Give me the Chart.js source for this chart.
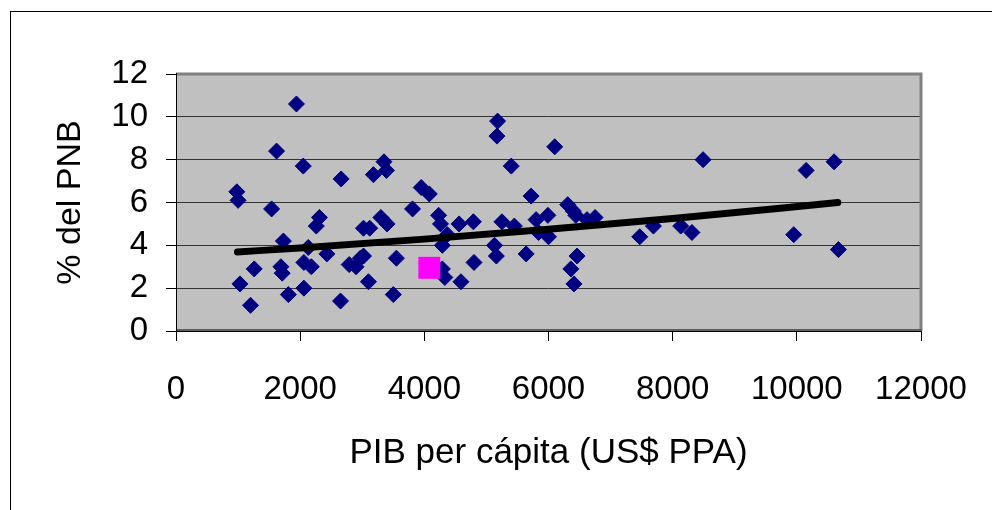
<!DOCTYPE html>
<html lang="es">
<head>
<meta charset="UTF-8">
<title>Gasto vs PIB per cápita</title>
<script src="https://cdn.jsdelivr.net/npm/chart.js@4.4.1/dist/chart.umd.min.js"></script>
<style>
  body { margin: 0; background: #fff; }
</style>
</head>
<body>
<canvas id="chart" width="992" height="510"></canvas>
<script>
// PIB per cápita (US$ PPA) por país
const pibX = [980,1000,1030,1200,1260,1540,1620,1730,1690,1710,
              1810,1940,2050,2060,2060,2130,2180,2260,2310,2430,
              2650,2660,2790,2900,2970,3020,3020,3120,3100,3180,
              3300,3400,3350,3390,3550,3500,3810,3950,4080,4230,
              4260,4370,4290,4290,4330,4560,4590,4790,4800,5130,
              5160,5180,5170,5250,5400,5450,5640,5720,5800,5840,
              5990,6000,6100,6310,6360,6400,6440,6460,6410,6620,
              6750,7470,7690,8130,8310,8490,9950,10150,10600,10670];
// % del PNB
const pnbY = [6.5,6.1,2.2,1.2,2.9,5.7,8.4,4.2,3.0,2.7,
              1.7,10.6,7.7,2.0,3.2,3.9,3.0,4.9,5.3,3.6,
              1.4,7.1,3.1,3.0,3.4,3.5,4.8,4.8,2.3,7.3,
              5.3,5.0,7.9,7.5,3.4,1.7,5.7,6.7,6.4,5.4,
              5.0,4.5,4.0,2.9,2.5,5.0,2.3,5.1,3.2,4.0,
              3.5,9.8,9.1,5.1,7.7,4.9,3.6,6.3,5.2,4.6,
              5.4,4.4,8.6,5.9,2.9,5.6,5.4,3.5,2.2,5.2,
              5.3,4.4,4.9,4.9,4.6,8.0,4.5,7.5,7.9,3.8];
// highlighted country
const destacadoX = [4080];
const destacadoY = [2.95];
// trend line
const tendX = [990, 2000, 4000, 6000, 8000, 10660];
const tendY = [3.69, 3.88, 4.29, 4.75, 5.25, 6.00];

const toPoints = (xs, ys) => xs.map((x, i) => ({ x: x, y: ys[i] }));

const FONT = "'Liberation Sans', Arial, sans-serif";

// grey plot area, frame and outer border
const excelFrame = {
  id: 'excelFrame',
  beforeDraw(chart) {
    const { ctx, chartArea: a } = chart;
    ctx.save();
    ctx.fillStyle = '#c0c0c0';
    ctx.fillRect(a.left, a.top, a.right - a.left, a.bottom - a.top);
    ctx.strokeStyle = '#000';
    ctx.lineWidth = 1;
    ctx.strokeRect(10.5, 11.5, 1200, 800);
    ctx.restore();
  },
  beforeDatasetsDraw(chart) {
    const { ctx, chartArea: a } = chart;
    ctx.save();
    ctx.strokeStyle = '#808080';
    ctx.lineWidth = 3;
    ctx.beginPath();
    ctx.moveTo(a.left, a.top);
    ctx.lineTo(a.right, a.top);
    ctx.lineTo(a.right, a.bottom);
    ctx.stroke();
    ctx.strokeStyle = '#000';
    ctx.lineWidth = 1;
    ctx.beginPath();
    ctx.moveTo(a.left + 0.5, a.top - 1);
    ctx.lineTo(a.left + 0.5, a.bottom + 0.5);
    ctx.lineTo(a.right + 1, a.bottom + 0.5);
    ctx.stroke();
    ctx.strokeStyle = '#606060';
    ctx.lineWidth = 2;
    ctx.beginPath();
    ctx.moveTo(a.left + 1, a.bottom - 1);
    ctx.lineTo(a.right + 1, a.bottom - 1);
    ctx.stroke();
    ctx.restore();
  }
};

new Chart(document.getElementById('chart').getContext('2d'), {
  type: 'scatter',
  data: {
    datasets: [
      {
        type: 'line',
        label: 'Tendencia',
        data: toPoints(tendX, tendY),
        borderColor: '#000',
        borderWidth: 7,
        borderCapStyle: 'round',
        pointRadius: 0,
        tension: 0.4,
        cubicInterpolationMode: 'monotone',
        fill: false,
        order: 0
      },
      {
        label: 'Destacado',
        data: toPoints(destacadoX, destacadoY),
        pointStyle: 'rect',
        pointRadius: 15.5,
        backgroundColor: '#ff00ff',
        borderColor: '#ff00ff',
        borderWidth: 0,
        order: 1
      },
      {
        label: 'Países',
        data: toPoints(pibX, pnbY),
        pointStyle: 'rectRot',
        pointRadius: 8,
        backgroundColor: '#000080',
        borderColor: '#000080',
        borderWidth: 1,
        order: 2
      }
    ]
  },
  options: {
    responsive: false,
    animation: false,
    layout: { padding: { left: 0, top: 74, right: 71, bottom: 0 } },
    plugins: { legend: { display: false }, tooltip: { enabled: false } },
    scales: {
      x: {
        type: 'linear',
        min: 0, max: 12000,
        afterFit(scale) {
          scale.height = 179;
          scale.paddingLeft = 0;
          scale.paddingRight = 0;
        },
        ticks: {
          stepSize: 2000, color: '#000', padding: 29,
          font: { family: FONT, size: 33 },
          callback: v => String(v)
        },
        grid: { drawOnChartArea: false, drawTicks: true, tickLength: 10, color: '#000' },
        border: { display: false },
        title: {
          display: true, text: 'PIB per cápita (US$ PPA)', color: '#000',
          font: { family: FONT, size: 35 }, padding: { top: 0, bottom: 36 }
        }
      },
      y: {
        min: 0, max: 12,
        afterFit(scale) { scale.width = 176; },
        ticks: { stepSize: 2, color: '#000', padding: 18, font: { family: FONT, size: 33 } },
        grid: { color: '#333', tickColor: '#000', tickLength: 10 },
        border: { display: false },
        title: {
          display: true, text: '% del PNB', color: '#000',
          font: { family: FONT, size: 34 }, padding: { top: 50, bottom: 0 }
        }
      }
    }
  },
  plugins: [excelFrame]
});
</script>
</body>
</html>
